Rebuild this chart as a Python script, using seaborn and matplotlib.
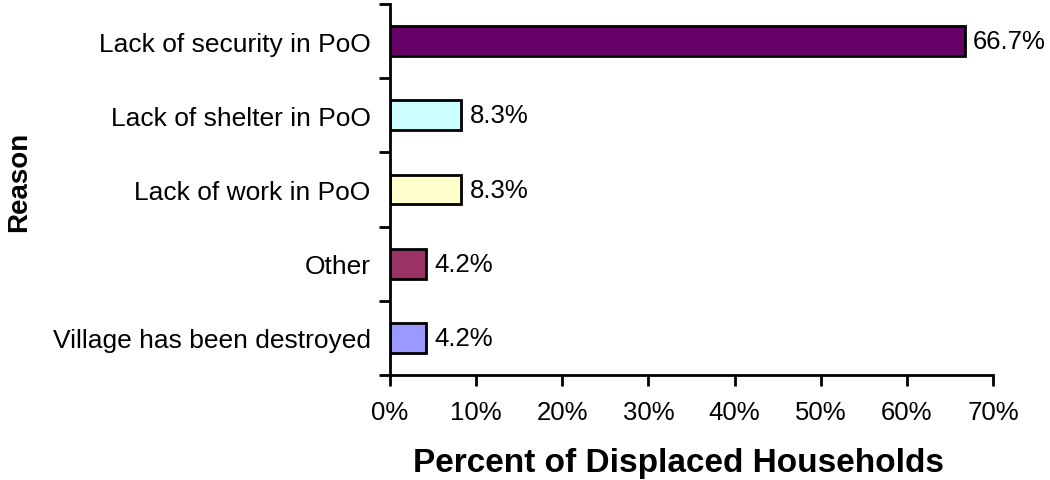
import matplotlib
matplotlib.use('Agg')
import matplotlib.pyplot as plt
import seaborn as sns
import pandas as pd
import numpy as np
from matplotlib.ticker import FixedLocator, FuncFormatter

sns.set_theme(style='white')
plt.rcParams['font.family'] = ['Liberation Sans', 'DejaVu Sans']
plt.rcParams['text.color'] = 'black'
plt.rcParams['axes.labelcolor'] = 'black'
plt.rcParams['xtick.color'] = 'black'
plt.rcParams['ytick.color'] = 'black'

reasons = ['Lack of security in PoO', 'Lack of shelter in PoO', 'Lack of work in PoO',
           'Other', 'Village has been destroyed']
percent = [66.7, 8.3, 8.3, 4.2, 4.2]
colors = ['#660066', '#CCFFFF', '#FFFFCC', '#993366', '#9999FF']

df = pd.DataFrame({'reason': reasons, 'percent': percent})

fig = plt.figure(figsize=(10.5, 4.81), dpi=100)
ax = fig.add_axes([0.3714, 0.2183, 0.5743, 0.7713])
sns.barplot(data=df, x='percent', y='reason', hue='reason', palette=colors, saturation=1,
            orient='h', width=0.4, edgecolor='black', linewidth=2, legend=False, ax=ax)

for c in ax.containers:
    ax.bar_label(c, fmt='%.1f%%', padding=6, fontsize=18.5)

ax.set_xlim(0, 70)
ax.set_ylim(4.5, -0.5)
ax.set_xticks(np.arange(0, 71, 10))
ax.xaxis.set_major_formatter(FuncFormatter(lambda v, p: f'{v:.0f}%'))
ax.yaxis.set_minor_locator(FixedLocator(np.arange(-0.5, 5, 1)))
ax.tick_params(axis='y', which='major', length=0, labelsize=19, pad=14)
ax.tick_params(axis='y', which='minor', length=8, width=2, color='black', left=True)
ax.tick_params(axis='x', length=8, width=2, color='black', bottom=True, labelsize=18.5, pad=10)

for s in ['top', 'right']:
    ax.spines[s].set_visible(False)
for s in ['left', 'bottom']:
    ax.spines[s].set_color('black')
    ax.spines[s].set_linewidth(2)

ax.set_xlabel('Percent of Displaced Households', fontsize=24, fontweight='bold')
ax.xaxis.set_label_coords(0.478, -0.195)
ax.xaxis.label.set_verticalalignment('top')
ax.set_ylabel('Reason', fontsize=20, fontweight='bold')
ax.yaxis.set_label_coords(-0.594, 0.523)

fig.savefig('out.png', dpi=100)
